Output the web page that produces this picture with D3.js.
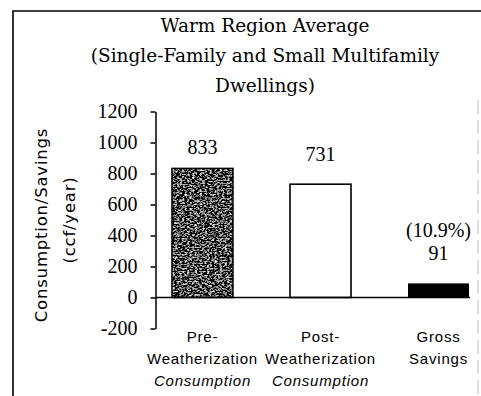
<!DOCTYPE html>
<html>
<head>
<meta charset="utf-8">
<script src="https://cdn.jsdelivr.net/npm/d3@7/dist/d3.min.js"></script>
<style>
  html, body { margin: 0; padding: 0; background: #fff; }
  svg { display: block; }
</style>
</head>
<body>
<svg id="chart" width="481" height="396"></svg>
<script>
// Warm region average consumption and savings (ccf/year)
const categories = ["pre", "post", "savings"];
const categoryLines = [
  ["Pre-", "Weatherization", "Consumption"],
  ["Post-", "Weatherization", "Consumption"],
  ["Gross", "Savings"]
];
const values = [833, 731, 91];
const valueLabels = ["833", "731", "91"];
const savingsPercent = "(10.9%)";
const yTicks = [-200, 0, 200, 400, 600, 800, 1000, 1200];
const titleLines = [
  "Warm Region Average",
  "(Single-Family and Small Multifamily",
  "Dwellings)"
];
const yTitleLines = ["Consumption/Savings", "(ccf/year)"];

const svg = d3.select("#chart");
const W = 481, H = 396;

const y = d3.scaleLinear().domain([-200, 1200]).range([328.5, 111.5]);
const x = d3.scaleBand().domain(categories).range([141, 500])
  .paddingInner(0.483).paddingOuter(0.2625);
const axisX = 155.5;

// speckled texture for the pre-weatherization bar
const defs = svg.append("defs");
const f = defs.append("filter").attr("id", "grain")
  .attr("x", 0).attr("y", 0).attr("width", 1).attr("height", 1);
f.append("feTurbulence").attr("type", "fractalNoise")
  .attr("baseFrequency", "0.4 0.7").attr("numOctaves", 3).attr("seed", 7).attr("result", "n");
f.append("feColorMatrix").attr("in", "n").attr("type", "matrix")
  .attr("values", "0.33 0.33 0.33 0 0  0.33 0.33 0.33 0 0  0.33 0.33 0.33 0 0  0 0 0 0 1")
  .attr("result", "g");
const ct = f.append("feComponentTransfer").attr("in", "g").attr("result", "c");
["feFuncR", "feFuncG", "feFuncB"].forEach(fn =>
  ct.append(fn).attr("type", "linear").attr("slope", 5).attr("intercept", -2.4));
f.append("feComposite").attr("in", "c").attr("in2", "SourceGraphic").attr("operator", "in");

// frame
svg.append("path")
  .attr("d", `M13,${H} L13,11 L${W},11`)
  .attr("fill", "none").attr("stroke", "#000").attr("stroke-width", 1.6);
svg.append("line")
  .attr("x1", 478).attr("x2", 478).attr("y1", 100).attr("y2", H)
  .attr("stroke", "#bbb").attr("stroke-width", 1).attr("stroke-dasharray", "14 6");

// title
svg.append("g").selectAll("text").data(titleLines).join("text")
  .attr("x", 265).attr("y", (d, i) => 32 + i * 30)
  .attr("text-anchor", "middle")
  .attr("font-family", "DejaVu Serif").attr("font-size", 18.5)
  .attr("fill", "#000")
  .text(d => d);

// y axis
const yAxis = d3.axisLeft(y).tickValues(yTicks).tickSize(5).tickSizeOuter(0).tickPadding(13)
  .tickFormat(d => d < 0 ? "-" + Math.abs(d) : d);
const gy = svg.append("g").attr("transform", `translate(${axisX},0)`).call(yAxis);
gy.select(".domain").attr("stroke", "#000").attr("stroke-width", 1.5);
gy.selectAll(".tick line").attr("stroke", "#000").attr("stroke-width", 1.5);
gy.selectAll(".tick text")
  .attr("font-family", "Liberation Serif").attr("font-size", 20).attr("fill", "#000");

// y axis title
svg.append("g").selectAll("text").data(yTitleLines).join("text")
  .attr("transform", (d, i) => `translate(${47 + i * 28},${225 - i * 5}) rotate(-90)`)
  .attr("text-anchor", "middle")
  .attr("font-family", "DejaVu Sans").attr("font-size", 16.5)
  .attr("letter-spacing", 0.8)
  .attr("fill", "#000")
  .text(d => d);

// bars
const bars = svg.append("g");
values.forEach((v, i) => {
  const c = categories[i];
  const bx = x(c), bw = x.bandwidth(), top = y(v), h = y(0) - y(v);
  if (i === 0) {
    bars.append("rect").attr("x", bx).attr("y", top).attr("width", bw).attr("height", h)
      .attr("fill", "#000").attr("filter", "url(#grain)");
    bars.append("rect").attr("x", bx).attr("y", top).attr("width", bw).attr("height", h)
      .attr("fill", "none").attr("stroke", "#000").attr("stroke-width", 1.5);
  } else if (i === 1) {
    bars.append("rect").attr("x", bx).attr("y", top).attr("width", bw).attr("height", h)
      .attr("fill", "#fff").attr("stroke", "#000").attr("stroke-width", 1.6);
  } else {
    bars.append("rect").attr("x", bx).attr("y", top).attr("width", bw).attr("height", h)
      .attr("fill", "#000");
  }
});

// zero baseline
svg.append("line")
  .attr("x1", axisX).attr("x2", x(categories[2]) + x.bandwidth() + 1)
  .attr("y1", y(0)).attr("y2", y(0))
  .attr("stroke", "#000").attr("stroke-width", 1.5);

// value labels
svg.append("g").selectAll("text").data(values).join("text")
  .attr("x", (d, i) => x(categories[i]) + x.bandwidth() / 2)
  .attr("y", (d, i) => y(d) - (i === 0 ? 14 : 23))
  .attr("text-anchor", "middle")
  .attr("font-family", "Liberation Serif").attr("font-size", 20).attr("fill", "#000")
  .text((d, i) => valueLabels[i]);
svg.append("text")
  .attr("x", x(categories[2]) + x.bandwidth() / 2)
  .attr("y", y(values[2]) - 46)
  .attr("text-anchor", "middle")
  .attr("font-family", "Liberation Serif").attr("font-size", 20).attr("fill", "#000")
  .text(savingsPercent);

// category labels
const catG = svg.append("g");
categoryLines.forEach((lines, i) => {
  const cx = x(categories[i]) + x.bandwidth() / 2;
  lines.forEach((t, j) => {
    catG.append("text")
      .attr("x", cx).attr("y", 342 + j * 22)
      .attr("text-anchor", "middle")
      .attr("font-family", "Liberation Sans").attr("font-size", 15)
      .attr("letter-spacing", 0.8)
      .attr("font-style", j === 2 ? "italic" : "normal")
      .attr("fill", "#000")
      .text(t);
  });
});
</script>
</body>
</html>
